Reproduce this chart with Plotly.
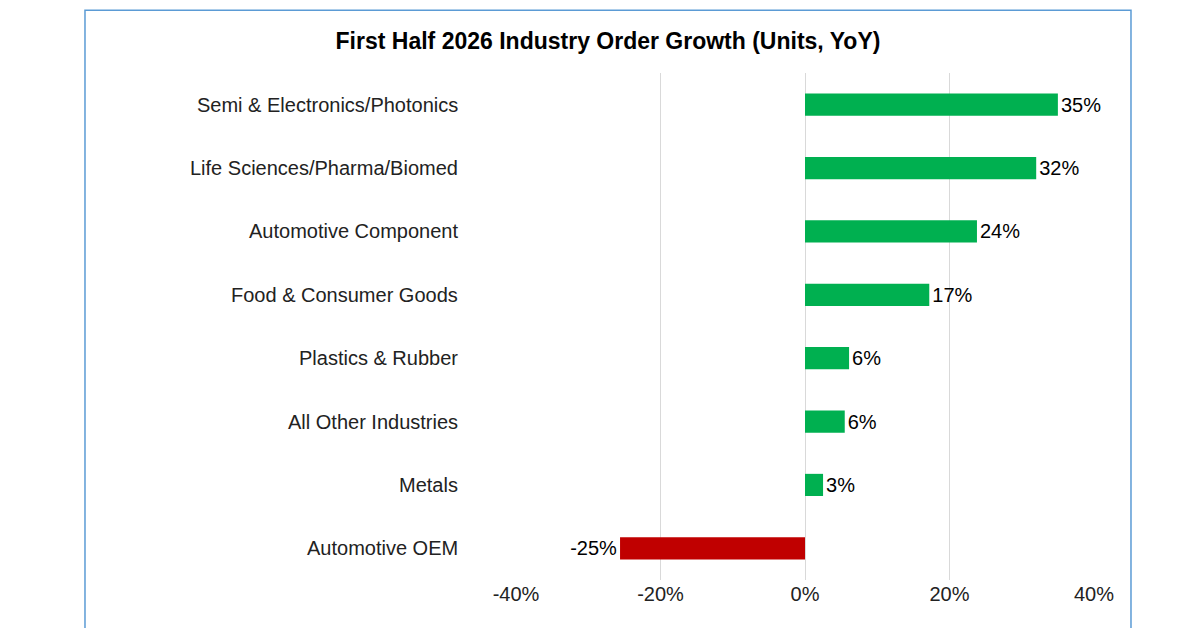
import plotly.graph_objects as go

industries = ["Semi & Electronics/Photonics", "Life Sciences/Pharma/Biomed", "Automotive Component",
              "Food & Consumer Goods", "Plastics & Rubber", "All Other Industries", "Metals", "Automotive OEM"]
growth = [0.350, 0.320, 0.238, 0.172, 0.061, 0.055, 0.025, -0.256]
labels = ["35%", "32%", "24%", "17%", "6%", "6%", "3%", "-25%"]
tick_vals = [-0.4, -0.2, 0, 0.2, 0.4]
tick_text = ["-40%", "-20%", "0%", "20%", "40%"]
colors = ["#00B050" if g >= 0 else "#C00000" for g in growth]

fig = go.Figure(go.Bar(
    x=growth, y=industries, orientation="h",
    marker=dict(color=colors, line=dict(width=0)),
    text=labels, textposition="outside", textfont=dict(size=20, color="black"),
    cliponaxis=False, width=0.35,
))

# category labels placed as annotations so the plot area stays fixed
for name in industries:
    fig.add_annotation(x=-0.097, xref="paper", y=name, yref="y", text=name, showarrow=False,
                       xanchor="right", font=dict(size=20, color="#222"))

fig.update_layout(
    width=1200, height=628,
    paper_bgcolor="white", plot_bgcolor="white",
    font=dict(family="Liberation Sans, Arial", size=20, color="#222"),
    title=dict(text="<b>First Half 2026 Industry Order Growth (Units, YoY)</b>",
               x=0.5, xanchor="center", y=0.947, yanchor="middle", font=dict(size=23, color="black")),
    margin=dict(l=508, r=114, t=65, b=56, autoexpand=False),
    showlegend=False,
    shapes=[dict(type="rect", xref="paper", yref="paper", x0=-0.7457, x1=1.064, y0=-0.1065, y1=1.124,
                 line=dict(color="#5B9BD5", width=1.5))],
)
fig.update_xaxes(range=[-0.4, 0.4], tickvals=tick_vals, ticktext=tick_text, showgrid=True,
                 gridcolor="#D9D9D9", zeroline=False, ticks="", automargin=False,
                 tickfont=dict(size=20, color="#222"))
fig.update_yaxes(autorange="reversed", showticklabels=False, ticks="", showgrid=False, automargin=False)

fig.write_html("out.html")
